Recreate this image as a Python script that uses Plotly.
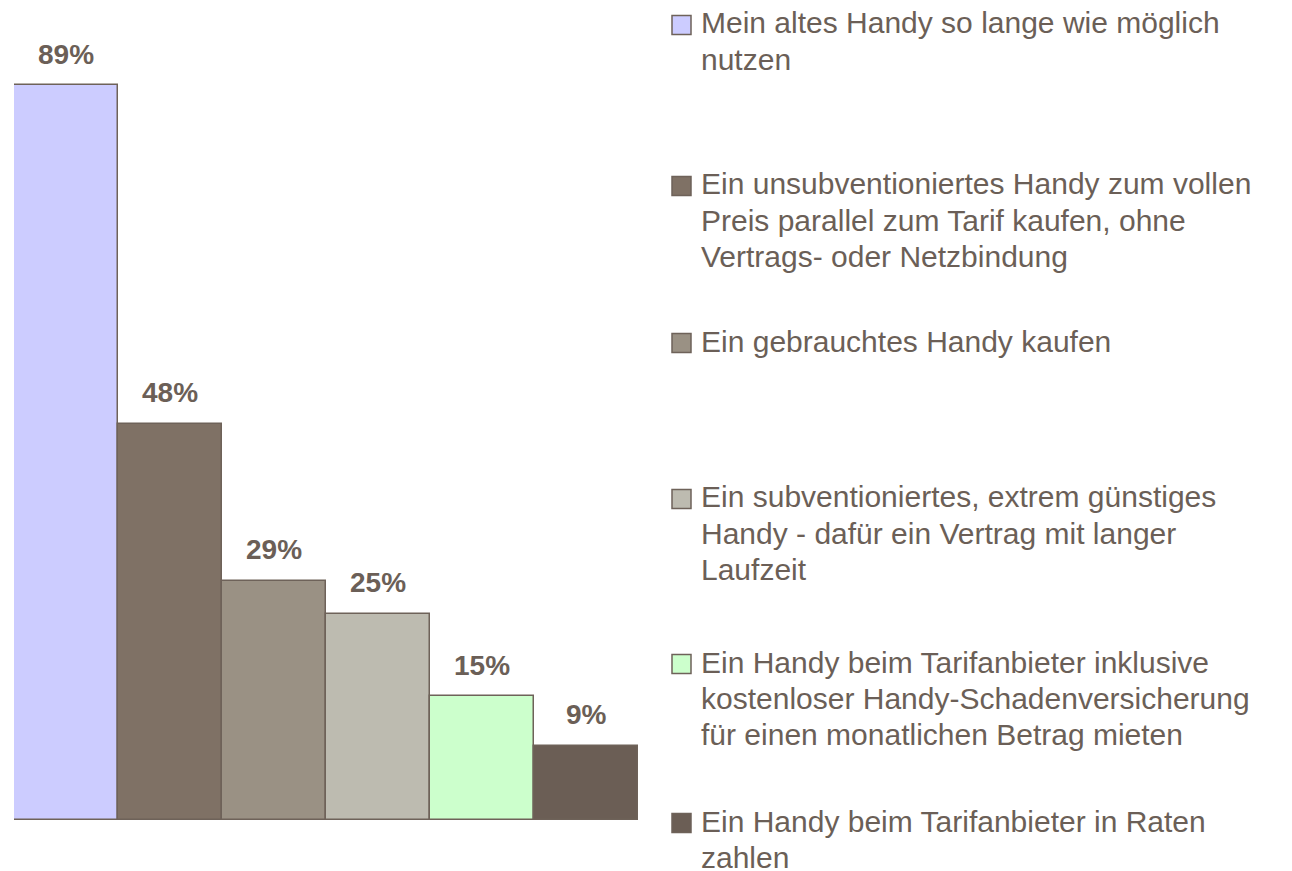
import plotly.graph_objects as go

categories = [
    "Mein altes Handy so lange wie möglich<br>nutzen",
    "Ein unsubventioniertes Handy zum vollen<br>Preis parallel zum Tarif kaufen, ohne<br>Vertrags- oder Netzbindung",
    "Ein gebrauchtes Handy kaufen",
    "Ein subventioniertes, extrem günstiges<br>Handy - dafür ein Vertrag mit langer<br>Laufzeit",
    "Ein Handy beim Tarifanbieter inklusive<br>kostenloser Handy-Schadenversicherung<br>für einen monatlichen Betrag mieten",
    "Ein Handy beim Tarifanbieter in Raten<br>zahlen",
]
values = [89, 48, 29, 25, 15, 9]
colors = ["#CCCCFF", "#7F7165", "#9A9184", "#BDBBB0", "#CCFFCC", "#6B5E55"]

TEXT = "#6B5F57"
EDGE = "#6E6259"
FONT = "Liberation Sans, Arial, sans-serif"

OFF = 8  # page body margin in the browser
W, H = 1292, 871
L, R, T, B = 14 - OFF, 1292 - (638 - OFF), 0, 871 - (820 - OFF)
pw, ph = W - L - R, H - T - B

xs = list(range(len(values)))

fig = go.Figure()
fig.add_trace(go.Bar(
    x=xs, y=values,
    marker=dict(color=colors, line=dict(color=EDGE, width=1.5)),
    width=1.0,
    showlegend=False,
    hoverinfo="skip",
))

annotations = []
for x, v in zip(xs, values):
    annotations.append(dict(
        x=x, y=v, xref="x", yref="y",
        text=f"<b>{v}%</b>", showarrow=False,
        yanchor="middle", yshift=31,
        font=dict(family=FONT, size=28, color=TEXT),
    ))

# legend built from categories / colors
legend_rows = [25, 186, 343, 499, 664, 823]  # first-line centre (reference px)
LFS = 30
LINE = 36
shapes = []
def px2x(px):
    return (px - OFF - L) / pw
def py2y(py):
    return 1 - (py - OFF - T) / ph

for cat, col, row in zip(categories, colors, legend_rows):
    shapes.append(dict(
        type="rect", xref="paper", yref="paper",
        x0=px2x(672), x1=px2x(691), y0=py2y(row - 9.5), y1=py2y(row + 9.5),
        fillcolor=col, line=dict(color=EDGE, width=1.5),
    ))
    for i, line in enumerate(cat.split("<br>")):
        annotations.append(dict(
            x=px2x(699), y=py2y(row + i * LINE - 2), xref="paper", yref="paper",
            text=line, showarrow=False, align="left",
            xanchor="left", yanchor="middle",
            font=dict(family=FONT, size=LFS, color=TEXT),
        ))

fig.update_layout(
    width=W, height=H,
    margin=dict(l=L, r=R, t=T, b=B),
    paper_bgcolor="white", plot_bgcolor="white",
    bargap=0,
    xaxis=dict(visible=False, range=[-0.5, 5.5]),
    yaxis=dict(visible=False, range=[0, (820 - OFF) / ((820 - 85) / 89)]),
    annotations=annotations,
    shapes=shapes,
)

fig.write_html("out.html")
